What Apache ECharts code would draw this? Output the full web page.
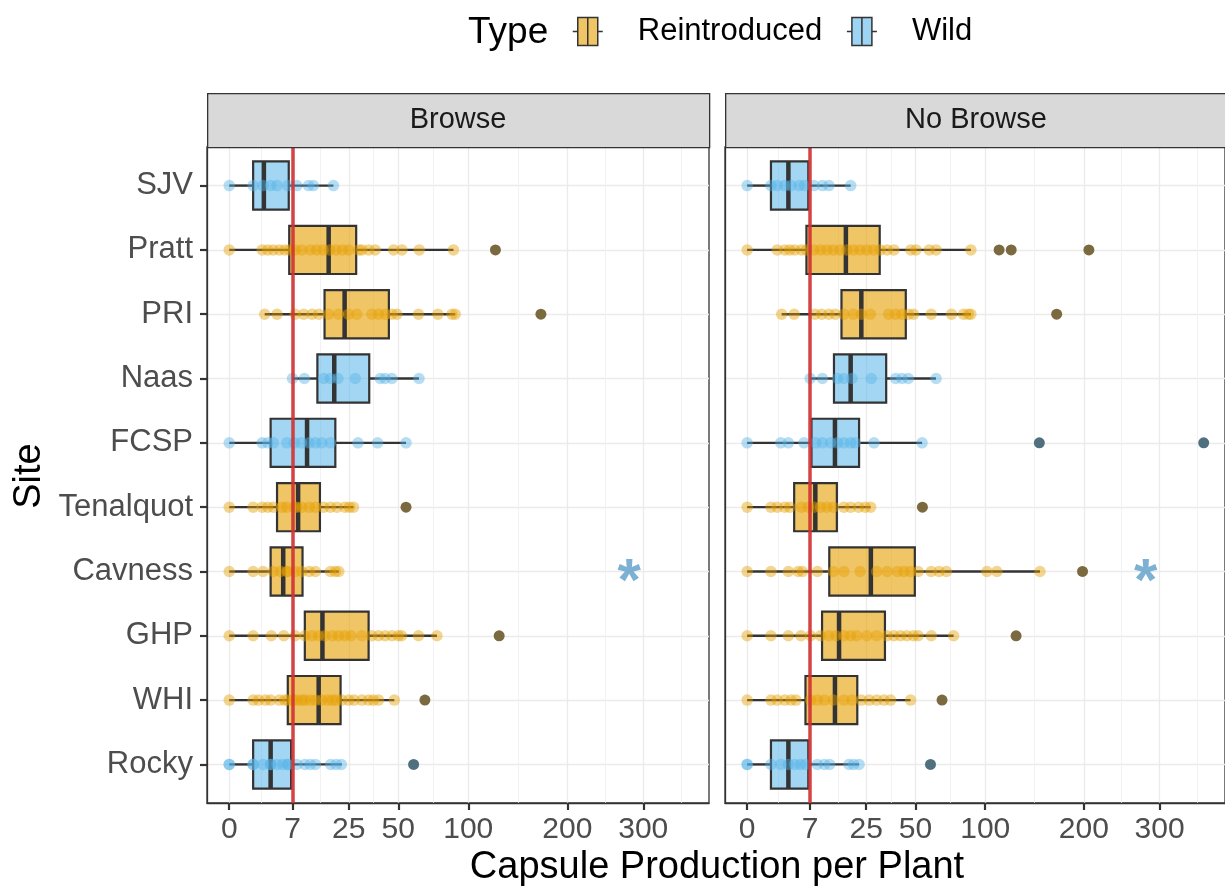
<!DOCTYPE html>
<html>
<head>
<meta charset="utf-8">
<script src="https://cdn.jsdelivr.net/npm/echarts@6/dist/echarts.min.js"></script>
<style>
html,body{margin:0;padding:0;background:#ffffff;}
#chart{width:1225px;height:891px;}
</style>
</head>
<body>
<div id="chart"></div>
<script>
// ---------------- data ----------------
const sites = ['Rocky','WHI','GHP','Cavness','Tenalquot','FCSP','Naas','PRI','Pratt','SJV'];
const siteTypes = ['Wild','Reintroduced','Reintroduced','Reintroduced','Reintroduced','Wild','Wild','Reintroduced','Reintroduced','Wild'];
const panelNames = ['Browse','No Browse'];
const typeNames = ['Reintroduced','Wild'];
const xTickValues = [0,7,25,50,100,200,300];
const thresholdValue = 7;
const sigSite = 'Cavness';
const sigValues = [280, 280];
const sigLabel = '*';

// box stats: [lower whisker, Q1, median, Q3, upper whisker], in site order
const browseBoxes = [
  [0, 1, 3, 6.7, 22.2],
  [0, 6, 14, 21.7, 47.7],
  [0, 10, 15.2, 34, 75.5],
  [0, 3, 5.1, 9.4, 21],
  [0, 4, 8.3, 14.4, 27],
  [0, 3, 10.6, 19.7, 54.7],
  [7, 13.6, 19.3, 34.3, 63],
  [2.2, 15.9, 23.3, 44.6, 89.4],
  [0, 6.3, 17.3, 28.2, 88],
  [0, 1, 2.1, 6.2, 19]
];
const noBrowseBoxes = [
  [0, 1, 3, 6.6, 22.1],
  [0, 6, 13.6, 21.4, 47.1],
  [0, 9.9, 14.9, 33.5, 75.2],
  [0, 11.9, 27, 49.6, 151.3],
  [0, 3.9, 8.2, 14.2, 26.9],
  [0, 7.3, 13.6, 22.1, 54],
  [7, 13.3, 18.9, 34.1, 62.9],
  [2.1, 15.7, 23, 44.4, 88.3],
  [0, 6.2, 17.2, 31, 88.3],
  [0, 1, 3, 6.6, 18.9]
];
const browseOutliers = [[59.5],[67],[127.5],[],[54.7],[],[],[170],[124],[]];
const noBrowseOutliers = [[59.3],[67],[127.6],[198.4],[54.2],[150.6,367.7],[],[169],[112,123,206],[]];

const browsePoints = [
  [0,0,1,1,2,3,3,4,5,6,6,8,10,11.5,13,18,20,22],
  [0,1,1.5,2.3,3,4.4,5.4,6,7.2,8,9.2,10,11.5,13,15,17,18.6,20,22.2,25,27.3,30.8,34,36.4,39,47.7],
  [0,1,3.1,5.2,7.6,10,12,14,16,18.6,20.9,23.4,26,30.8,35.6,39,42.6,46.3,50,52,62.7,75.5],
  [0,1,2,3.4,4.6,5.8,6,7.6,9.2,11.2,13,17.9,19.7,21],
  [0,1,1.9,2.6,3.4,4.9,5.8,7.4,8,9.2,11.2,13,15.6,17.9,20.3,23.4,25.3,27],
  [0,1.9,2.6,3.4,5.8,7.4,9.1,11.2,13,15,17.9,29,38.5,54.7],
  [7,9.9,15.6,17.9,20.7,27.8,39.9,42.6,46.3,63],
  [2.2,4,7.6,9.7,12,14,17.3,20.9,24.9,28.5,35.6,39,42.6,46.3,49.2,62.7,76.2,86.8,89.4],
  [0,1.9,2.6,3.4,4.4,5.4,6.4,7.6,9.2,11.5,13.4,15.4,17.6,20,22.5,25,29.4,30.8,34,37.3,47.3,52.2,63.2,88],
  [0,1,2,3,4,6,8,11,12.4,19]
];
const noBrowsePoints = [
  [0,0,1,2,3,4,5,6,8.7,10.5,12,18.3,20,22.1],
  [0,1,1.6,2.5,3.4,4.2,7.1,8.7,10.5,13.1,16.5,19.4,23,26.3,29.6,33,36.3,47.1],
  [0,1,3,5.1,7.1,9.5,11.8,13.9,16.5,18.9,21.2,25.3,29.6,34.6,38,41.5,45,48.8,51.6,59.8,75.2],
  [0,1,3,4.6,5.4,8.7,13.1,16.5,22.5,29.6,34.6,39.9,43.4,47,51.6,59.8,65,70,101.4,110,151.3],
  [0,1,1.6,2.5,3.2,5.2,6.6,7.9,9.5,11.2,13.1,16.5,18.9,21.9,24.6,26.9],
  [0,2,3,5.7,8.3,10,12.3,14.4,16.5,18.9,20.6,28.4,54],
  [7,10,14.4,16.5,19.4,27.2,38.9,42.3,45.8,63],
  [2.1,3.9,8.1,9.8,11.8,13.7,16.5,19.9,23,26.8,35.3,38.8,42.3,46,48.9,59.8,73.7,82.6,86.3,88.3],
  [0,1.6,2.5,3.2,4,5.2,6.2,7.9,9.5,11.2,13.1,15.2,17.5,19.9,22.5,25.3,28.2,31.3,34.6,38,47.3,50.3,58.5,63,88.3],
  [0,1,1.6,2.5,3.4,4.8,5.8,7.9,10,11.8,18.9]
];

const panelBoxes = [browseBoxes, noBrowseBoxes];
const panelOutliers = [browseOutliers, noBrowseOutliers];
const panelPoints = [browsePoints, noBrowsePoints];

// ---------------- styling ----------------
const FONT = "'Liberation Sans', Arial, Helvetica, sans-serif";
const boxFill = {Reintroduced: 'rgba(230,159,0,0.6)', Wild: 'rgba(86,180,233,0.55)'};
const pointColor = {Reintroduced: 'rgba(230,159,0,0.55)', Wild: 'rgba(86,180,233,0.55)'};
const outlierColor = {Reintroduced: '#7b6a3f', Wild: '#51707f'};
const keyFill = {Reintroduced: '#f0c566', Wild: '#9dd3f3'};
const BOX_WIDTH = 0.75;
const X_MIN = -0.93, X_MAX = 20.07;
const gridDefs = [
  {left: 207, top: 147, width: 502, height: 656},
  {left: 725, top: 147, width: 502, height: 656}
];

const sqrtTicks = xTickValues.map(v => Math.sqrt(v));
const minorTicks = [];
for (let i = 1; i < sqrtTicks.length; i++) minorTicks.push((sqrtTicks[i - 1] + sqrtTicks[i]) / 2);
minorTicks.push(sqrtTicks[sqrtTicks.length - 1] + (sqrtTicks[sqrtTicks.length - 1] - sqrtTicks[sqrtTicks.length - 2]) / 2);
const yPositions = sites.map((s, i) => i + 1);

function renderBox(fill) {
  return function (params, api) {
    const y = api.value(0);
    const p = [1, 2, 3, 4, 5].map(d => api.coord([api.value(d), y]));
    const half = api.size([0, BOX_WIDTH])[1] / 2;
    const cy = p[0][1];
    const stroke = '#333333';
    return {
      type: 'group',
      children: [
        {type: 'line', shape: {x1: p[0][0], y1: cy, x2: p[1][0], y2: cy}, style: {stroke: stroke, lineWidth: 2.4}},
        {type: 'line', shape: {x1: p[3][0], y1: cy, x2: p[4][0], y2: cy}, style: {stroke: stroke, lineWidth: 2.4}},
        {type: 'rect', shape: {x: p[1][0], y: cy - half, width: p[3][0] - p[1][0], height: 2 * half},
         style: {fill: fill, stroke: stroke, lineWidth: 2.2}},
        {type: 'line', shape: {x1: p[2][0], y1: cy - half, x2: p[2][0], y2: cy + half}, style: {stroke: stroke, lineWidth: 4.5}}
      ]
    };
  };
}

const xAxes = [], yAxes = [], series = [];
gridDefs.forEach((g, pi) => {
  xAxes.push({
    type: 'value', gridIndex: pi, min: X_MIN, max: X_MAX,
    axisLine: {show: true, onZero: false, lineStyle: {color: '#333333', width: 1.3}},
    axisTick: {show: true, customValues: sqrtTicks, length: 7, lineStyle: {color: '#333333', width: 2.2}},
    axisLabel: {show: true, customValues: sqrtTicks, margin: 12, fontSize: 30, color: '#4d4d4d', fontFamily: FONT,
      formatter: v => String(Math.round(v * v))},
    splitLine: {show: true, lineStyle: {color: '#ebebeb', width: 1.3}}
  });
  xAxes.push({
    type: 'value', gridIndex: pi, min: X_MIN, max: X_MAX,
    axisLine: {show: false, onZero: false},
    axisTick: {show: false, customValues: minorTicks},
    axisLabel: {show: false, customValues: minorTicks},
    splitLine: {show: true, lineStyle: {color: '#f2f2f2', width: 1}}
  });
  yAxes.push({
    type: 'value', gridIndex: pi, min: 0.4, max: 10.6,
    axisLine: {show: true, onZero: false, lineStyle: {color: '#333333', width: 1.3}},
    axisTick: {show: pi === 0, customValues: yPositions, length: 7, lineStyle: {color: '#333333', width: 2.2}},
    axisLabel: {show: pi === 0, customValues: yPositions, margin: 14, fontSize: 31, color: '#4d4d4d', fontFamily: FONT,
      formatter: v => sites[Math.round(v) - 1]},
    splitLine: {show: true, lineStyle: {color: '#ebebeb', width: 1.3}}
  });

  const xi = pi * 2;
  typeNames.forEach(t => {
    const boxData = [];
    const ptData = [];
    const outData = [];
    sites.forEach((s, si) => {
      if (siteTypes[si] !== t) return;
      const b = panelBoxes[pi][si];
      boxData.push([si + 1].concat(b.map(Math.sqrt)));
      panelPoints[pi][si].forEach(v => ptData.push([Math.sqrt(v), si + 1]));
      panelOutliers[pi][si].forEach(v => outData.push([Math.sqrt(v), si + 1]));
    });
    series.push({
      name: t, type: 'custom', xAxisIndex: xi, yAxisIndex: pi, z: 2,
      renderItem: renderBox(boxFill[t]),
      encode: {x: [1, 2, 3, 4, 5], y: 0},
      itemStyle: {color: keyFill[t]},
      data: boxData, silent: true
    });
    series.push({
      name: t, type: 'scatter', xAxisIndex: xi, yAxisIndex: pi, z: 4,
      symbol: 'circle', symbolSize: 11,
      itemStyle: {color: outlierColor[t], opacity: 1},
      data: outData, silent: true
    });
    series.push({
      name: t, type: 'scatter', xAxisIndex: xi, yAxisIndex: pi, z: 3,
      symbol: 'circle', symbolSize: 11.5,
      itemStyle: {color: pointColor[t]},
      data: ptData, silent: true
    });
  });

  series.push({
    name: 'sig', type: 'scatter', xAxisIndex: xi, yAxisIndex: pi, z: 6,
    symbolSize: 1, itemStyle: {color: 'rgba(0,0,0,0)'},
    label: {show: true, position: 'inside', formatter: sigLabel, fontSize: 60, fontWeight: 'bold', color: '#5b9ec9',
      fontFamily: FONT, offset: [0, 12]},
    data: [[Math.sqrt(sigValues[pi]), sites.indexOf(sigSite) + 1]],
    markLine: {
      silent: true, symbol: ['none', 'none'], label: {show: false},
      lineStyle: {color: 'rgba(208,52,52,0.92)', width: 3.5, type: 'solid'},
      emphasis: {disabled: true},
      data: [{xAxis: Math.sqrt(thresholdValue)}]
    },
    silent: true
  });
});

const keyPath = 'path://M5,0H25V28H5Z M15,0V28 M0,14H5 M25,14H30';

const graphics = [];
gridDefs.forEach((g, pi) => {
  graphics.push({
    type: 'rect', left: g.left, top: 93, z: 10,
    shape: {x: 0, y: 0, width: g.width, height: g.top - 93},
    style: {fill: '#d9d9d9', stroke: '#333333', lineWidth: 1.3}
  });
  graphics.push({
    type: 'text', x: g.left + g.width / 2, y: 120, z: 11,
    style: {text: panelNames[pi], fill: '#1a1a1a', font: '29px ' + FONT, align: 'center', verticalAlign: 'middle'}
  });
});
graphics.push({
  type: 'text', x: 717, y: 868, z: 11,
  style: {text: 'Capsule Production per Plant', fill: '#000000', font: '38px ' + FONT, align: 'center', verticalAlign: 'middle'}
});
graphics.push({
  type: 'text', x: 30, y: 476, rotation: Math.PI / 2, z: 11,
  style: {text: 'Site', fill: '#000000', font: '38px ' + FONT, align: 'center', verticalAlign: 'middle'}
});

const option = {
  animation: false,
  backgroundColor: '#ffffff',
  title: {
    text: 'Type', left: 468, top: 14, padding: 0,
    textStyle: {fontSize: 37, fontWeight: 'normal', color: '#000000', fontFamily: FONT}
  },
  legend: {
    left: 572, top: 16, padding: 0, orient: 'horizontal',
    itemWidth: 30, itemHeight: 28, itemGap: 24,
    selectedMode: false,
    textStyle: {fontSize: 31, color: '#000000', fontFamily: FONT, padding: [0, 0, 0, 30]},
    data: typeNames.map(t => ({
      name: t, icon: keyPath,
      itemStyle: {color: keyFill[t], borderColor: '#333333', borderWidth: 1.5}
    }))
  },
  grid: gridDefs.map(g => Object.assign({
    show: true, backgroundColor: '#ffffff', borderColor: '#333333', borderWidth: 1.3, containLabel: false
  }, g)),
  xAxis: xAxes,
  yAxis: yAxes,
  graphic: graphics,
  series: series
};

const chart = echarts.init(document.getElementById('chart'), null, {renderer: 'canvas'});
chart.setOption(option);
</script>
</body>
</html>
